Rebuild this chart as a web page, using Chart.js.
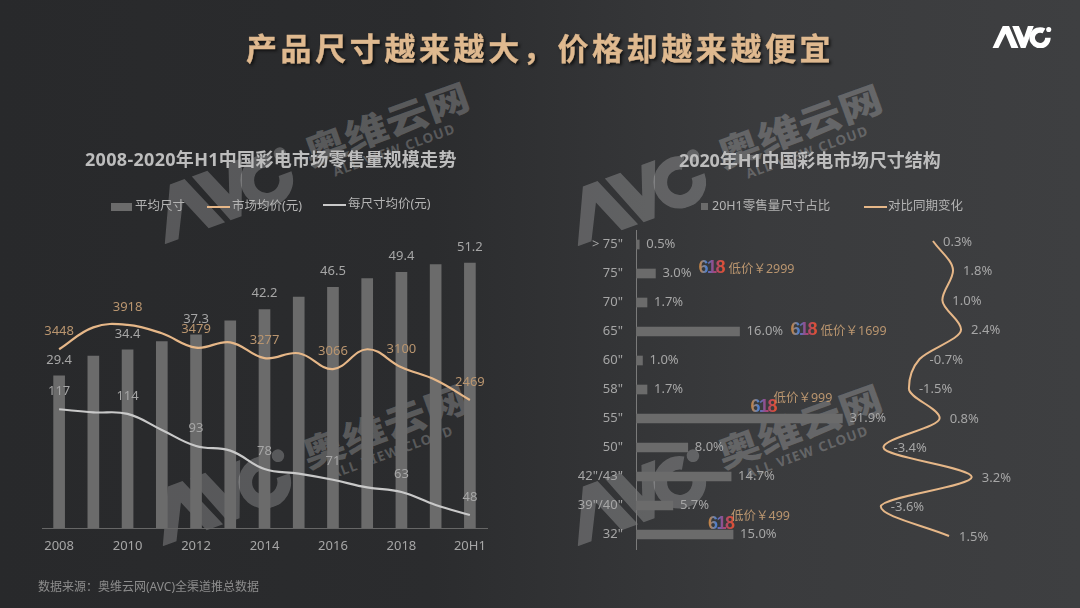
<!DOCTYPE html>
<html>
<head>
<meta charset="utf-8">
<script src="https://cdn.jsdelivr.net/npm/chart.js@4"></script>
<style>
  html, body { margin: 0; padding: 0; }
  #page { position: relative; width: 1080px; height: 608px; overflow: hidden;
    background: linear-gradient(90deg, #28292b 0%, #2b2c2e 40%, #3a3b3d 70%, #3e3f41 100%);
    font-family: "Noto Sans", "Noto Sans CJK SC", sans-serif; }
  canvas { position: absolute; top: 0; }
  .txt { position: absolute; white-space: nowrap; line-height: 1; }
  #title { left: 246px; top: 31px; font: bold 31px "Noto Sans CJK SC"; letter-spacing: 3.6px; line-height: 1;
    color: #dfb98f; -webkit-text-stroke: 0.4px #dfb98f; text-shadow: 2px 2px 3px #111; }
  .sub { font: bold 18px "Noto Sans", "Noto Sans CJK SC"; color: #bdbdbd; line-height: 1; }
  .leg { font-size: 12.5px; color: #b4b4b4; }
  .swatch { position: absolute; }
  #source { left: 38px; top: 581px; font-size: 12px; color: #8d8d8d; }
  .wm { position: absolute; transform: rotate(-20deg); transform-origin: 0 0; color: rgba(255,255,255,.22); pointer-events: none; }
  .wm svg { position: absolute; left: 0; top: -56px; }
  .wm .cn { position: absolute; left: 163px; top: -58px; font: 900 36px "Noto Sans CJK SC"; line-height: 1; white-space: nowrap;
    transform: scaleX(1.2); transform-origin: 0 0; }
  .wm .en { position: absolute; left: 183px; top: -17px; font: bold 13.5px "Noto Sans"; letter-spacing: 1.2px; line-height: 1; white-space: nowrap; }
</style>
</head>
<body>
<div id="page">
  <canvas id="leftChart" width="540" height="608" style="left:0"></canvas>
  <canvas id="rightChart" width="540" height="608" style="left:540px"></canvas>

  <div class="txt" id="title">产品尺寸越来越大，价格却越来越便宜</div>
  <div class="txt sub" style="left:85px;top:150px;letter-spacing:.3px">2008-2020年H1中国彩电市场零售量规模走势</div>
  <div class="txt sub" style="left:679px;top:151px;letter-spacing:-.1px">2020年H1中国彩电市场尺寸结构</div>

  <div class="swatch" style="left:111px;top:203px;width:21px;height:8px;background:#6b6b6b"></div>
  <div class="txt leg" style="left:135px;top:200px">平均尺寸</div>
  <div class="swatch" style="left:207px;top:206px;width:23px;height:2px;background:#e6b788"></div>
  <div class="txt leg" style="left:232px;top:200px">市场均价(元)</div>
  <div class="swatch" style="left:323px;top:204px;width:23px;height:2px;background:#c9c9c9"></div>
  <div class="txt leg" style="left:348px;top:198px">每尺寸均价(元)</div>

  <div class="swatch" style="left:701px;top:203px;width:7px;height:7px;background:#6b6b6b"></div>
  <div class="txt leg" style="left:712px;top:200px">20H1零售量尺寸占比</div>
  <div class="swatch" style="left:864px;top:206px;width:23px;height:2px;background:#e6b788"></div>
  <div class="txt leg" style="left:888px;top:200px">对比同期变化</div>

  <div class="txt" id="source">数据来源：奥维云网(AVC)全渠道推总数据</div>
  <div id="topLogo" style="position:absolute;left:992px;top:26px;color:#fff"></div>
</div>

<script>
// left chart data
const years = ["2008","2009","2010","2011","2012","2013","2014","2015","2016","2017","2018","2019","20H1"];
const avgSize = [29.4,33.2,34.4,36,37.3,40,42.2,44.6,46.5,48.2,49.4,50.9,51.2];
const marketPrice = [3448,3870,3918,3755,3479,3582,3277,3371,3066,3448,3100,2855,2469];
const pricePerInch = [117,115,114,103.5,93,90,78,75,71,66,63,54.5,48];

// right chart data
const sizes = ['> 75"','75"','70"','65"','60"','58"','55"','50"','42"/43"','39"/40"','32"'];
const sizeShare = [0.5,3.0,1.7,16.0,1.0,1.7,31.9,8.0,14.7,5.7,15.0];
const sizeChange = [0.3,1.8,1.0,2.4,-0.7,-1.5,0.8,-3.4,3.2,-3.6,1.5];

// 618 promo notes on the right chart
const promoSizes = ['75"','65"','55"','32"'];
const promoPrices = ["低价￥2999","低价￥1699","低价￥999","低价￥499"];

const GREY = "#a6a6a6";
const ORANGE = "#b9956f";
const LABEL_FONT = '13px "Noto Sans", "Noto Sans CJK SC"';

Chart.defaults.animation = false;
Chart.defaults.devicePixelRatio = 1;

function drawLabel(ctx, text, x, y, color, align) {
  ctx.fillStyle = color;
  ctx.textAlign = align || "center";
  ctx.textBaseline = "middle";
  ctx.fillText(text, x, y);
}

// labels every second year, above each mark
const leftLabels = {
  id: "leftLabels",
  afterDatasetsDraw(chart) {
    const ctx = chart.ctx;
    ctx.save();
    ctx.font = LABEL_FONT;
    chart.getDatasetMeta(0).data.forEach((el, i) => {
      if (i % 2 === 0) drawLabel(ctx, avgSize[i].toFixed(1), el.x, el.y - 16, GREY);
    });
    chart.getDatasetMeta(1).data.forEach((el, i) => {
      if (i % 2 === 0) drawLabel(ctx, String(marketPrice[i]), el.x, el.y - 18, ORANGE);
    });
    chart.getDatasetMeta(2).data.forEach((el, i) => {
      if (i % 2 === 0) drawLabel(ctx, String(pricePerInch[i]), el.x, el.y - 18, GREY);
    });
    ctx.restore();
  }
};

const rightLabels = {
  id: "rightLabels",
  afterDatasetsDraw(chart) {
    const ctx = chart.ctx;
    ctx.save();
    ctx.font = LABEL_FONT;
    chart.getDatasetMeta(0).data.forEach((el, i) => {
      drawLabel(ctx, sizeShare[i].toFixed(1) + "%", el.x + 7, el.y, GREY, "left");
    });
    chart.getDatasetMeta(1).data.forEach((el, i) => {
      drawLabel(ctx, sizeChange[i].toFixed(1) + "%", el.x + 10, el.y + 1, GREY, "left");
    });

    // 618 badge + price: [badge dx from bar end, badge dy, text dx from badge, text dy]
    const promoPlace = [[43, -5, 30, 1], [51, -1, 30, 1], [-92, -11, 23, -9], [-25, -10, 23, -8]];
    const bars = chart.getDatasetMeta(0).data;
    promoSizes.forEach((s, k) => {
      const bar = bars[sizes.indexOf(s)];
      const [dx, dy, tx, ty] = promoPlace[k];
      const bx = bar.x + dx, by = bar.y + dy;
      const g = ctx.createLinearGradient(bx, by, bx + 24, by);
      g.addColorStop(0, "#d9852f");
      g.addColorStop(0.35, "#4a7fd0");
      g.addColorStop(0.65, "#a0457e");
      g.addColorStop(1, "#d8503a");
      ctx.font = 'bold 18px "Liberation Sans"';
      ctx.letterSpacing = "-1.5px";
      drawLabel(ctx, "618", bx, by, g, "left");
      ctx.letterSpacing = "0px";
      ctx.font = '12.5px "Noto Sans", "Noto Sans CJK SC"';
      drawLabel(ctx, promoPrices[k], bx + tx, by + ty, ORANGE, "left");
      ctx.font = LABEL_FONT;
    });
    ctx.restore();
  }
};

new Chart(document.getElementById("leftChart"), {
  type: "bar",
  data: {
    labels: years,
    datasets: [
      { data: avgSize, backgroundColor: "#6b6b6b", barThickness: 11, yAxisID: "y", order: 3 },
      { type: "line", data: marketPrice, borderColor: "#e6b788", borderWidth: 2.2, pointRadius: 0, tension: 0.4, yAxisID: "yPrice", order: 1 },
      { type: "line", data: pricePerInch, borderColor: "#c9c9c9", borderWidth: 2.2, pointRadius: 0, tension: 0.4, yAxisID: "yInch", order: 2 }
    ]
  },
  options: {
    responsive: false,
    layout: { padding: { top: 240, left: 42, right: 53, bottom: 0 } },
    plugins: { legend: { display: false }, tooltip: { enabled: false } },
    scales: {
      x: {
        grid: { display: false },
        border: { color: "#666666" },
        afterFit(scale) { scale.height = 80; },
        ticks: {
          color: GREY, font: { size: 13, family: '"Noto Sans"' }, padding: 2,
          autoSkip: false, maxRotation: 0,
          callback(v, i) { return i % 2 === 0 ? years[i] : ""; }
        }
      },
      y: { display: false, min: 0, max: 55.64 },
      yPrice: { display: false, min: 0, max: 5555 },
      yInch: { display: false, min: 39.5, max: 227.5 }
    }
  },
  plugins: [leftLabels]
});

new Chart(document.getElementById("rightChart"), {
  type: "bar",
  data: {
    labels: sizes,
    datasets: [
      { data: sizeShare, backgroundColor: "#6b6b6b", barThickness: 9, grouped: false, xAxisID: "x", yAxisID: "y", order: 2 },
      {
        type: "line", indexAxis: "y",
        data: sizeChange.map((v, i) => ({ x: v, y: i })),
        borderColor: "#e6b788", borderWidth: 2, pointRadius: 0,
        cubicInterpolationMode: "monotone",
        xAxisID: "xChange", yAxisID: "yChange", order: 1
      }
    ]
  },
  options: {
    indexAxis: "y",
    responsive: false,
    layout: { padding: { top: 230, right: 40, bottom: 59, left: 0 } },
    plugins: { legend: { display: false }, tooltip: { enabled: false } },
    scales: {
      x: { display: false, min: 0, max: 62.44 },
      xChange: { type: "linear", display: false, min: -21.9, max: 8.3 },
      y: {
        grid: { display: false, drawTicks: false },
        border: { color: "#7a7a7a" },
        afterFit(scale) { scale.width = 96; },
        ticks: { color: GREY, font: { size: 13, family: '"Noto Sans"' }, padding: 13, autoSkip: false }
      },
      yChange: { type: "linear", display: false, reverse: true, offset: false, min: -0.373, max: 10.44 }
    }
  },
  plugins: [rightLabels]
});

// AVC mark, used for the corner logo and the watermarks
function avcLogo(width, height) {
  return `<svg width="${width}" height="${height}" viewBox="0 0 150 56" fill="currentColor">
    <path d="M0 56 L26 0 L42 0 L66 56 L48 56 L33 20 L15 56Z"/>
    <path d="M50 0 L67 0 L80 30 L90 0 L105 0 L84 56 L72 56Z"/>
    <path d="M131 12.7 A20 20 0 1 0 141 30" fill="none" stroke="currentColor" stroke-width="14"/>
    <circle cx="143" cy="9" r="6.5"/>
  </svg>`;
}
document.getElementById("topLogo").innerHTML = avcLogo(60, 22);

// watermarks sit underneath the charts
const watermarkSpots = [[165, 245], [578, 247], [163, 547], [578, 547]];
const page = document.getElementById("page");
watermarkSpots.forEach(([x, y]) => {
  const wm = document.createElement("div");
  wm.className = "wm";
  wm.style.left = x + "px";
  wm.style.top = y + "px";
  wm.innerHTML = avcLogo(146, 56) + '<div class="cn">奥维云网</div><div class="en">ALL VIEW CLOUD</div>';
  page.insertBefore(wm, page.firstChild);
});
</script>
</body>
</html>
